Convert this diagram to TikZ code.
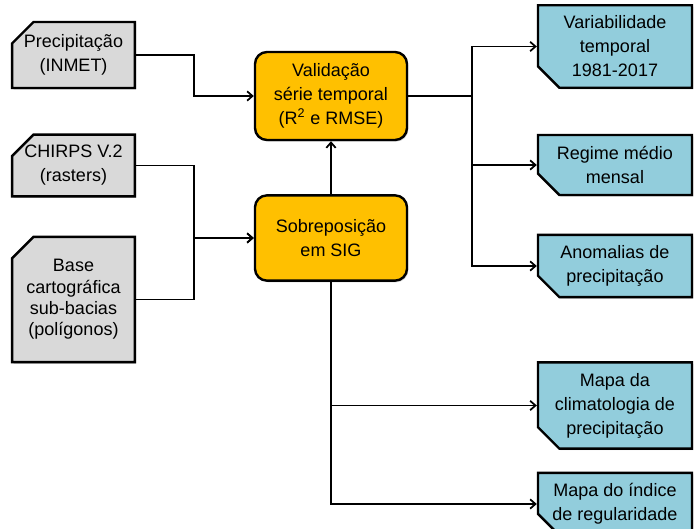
\documentclass[tikz,border=0pt]{standalone}
\usepackage{fontspec}
\setmainfont{Liberation Sans}
\usetikzlibrary{shapes.misc, arrows.meta, shadows}
\definecolor{inputcolor}{RGB}{217, 217, 217}
\definecolor{stepcolor}{RGB}{255, 192, 0}
\definecolor{outputcolor}{RGB}{146, 205, 220}

\tikzset{
  box/.style={draw=black, line width=1.8pt, align=center, inner sep=0pt,
    font=\fontsize{13.5}{18}\selectfont,
    drop shadow={shadow xshift=1pt, shadow yshift=-1.2pt, opacity=0.35}},
  inbox/.style={box, fill=inputcolor, chamfered rectangle,
    chamfered rectangle corners=north west,
    chamfered rectangle xsep=8pt, chamfered rectangle ysep=8pt},
  procbox/.style={box, fill=stepcolor, rounded corners=9pt,
    minimum width=114pt},
  outbox/.style={box, fill=outputcolor, chamfered rectangle,
    chamfered rectangle corners=south west,
    chamfered rectangle xsep=8pt, chamfered rectangle ysep=8pt,
    minimum width=115.5pt},
  flow/.style={line width=1.3pt, -{Straight Barb[length=4pt, width=7pt]}},
  link/.style={line width=1.3pt}
}

\begin{document}
\begin{tikzpicture}[x=0.75pt, y=-0.75pt]
        \useasboundingbox (0, 0) rectangle (694, 529);
        % Inputs {{{
        \node[inbox, minimum width=92pt, minimum height=49.5pt] (prec) at (73.5, 55) {Precipitação\\(INMET)};
        \node[inbox, minimum width=92pt, minimum height=44pt] (chirps) at (73.5, 165.5) {CHIRPS V.2\\(rasters)};
        \node[inbox, minimum width=92pt, minimum height=94pt,
          font=\fontsize{13.5}{16}\selectfont] (base) at (73.5, 299.5) {Base\\cartográfica\\sub-bacias\\(polígonos)};
        % }}}
        % Processing {{{
        \node[procbox, minimum height=66pt] (valid) at (331, 96) {Validação\\série temporal\\(R\textsuperscript{2} e RMSE)};
        \node[procbox, minimum height=64pt] (sobre) at (331, 238) {Sobreposição\\em SIG};
        % }}}
        % Outputs {{{
        \node[outbox, minimum height=55pt] (var) at (615, 46.5) {Variabilidade\\temporal\\1981-2017};
        \node[outbox, minimum height=45pt] (regime) at (615, 165) {Regime médio\\mensal};
        \node[outbox, minimum height=46.5pt] (anom) at (615, 266) {Anomalias de\\precipitação};
        \node[outbox, minimum height=56pt] (clim) at (615, 405.5) {Mapa da\\climatologia de\\precipitação};
        \node[outbox, minimum height=40pt] (indice) at (615, 504) {Mapa do índice\\de regularidade};
        % }}}
        % Connectors {{{
        \coordinate (jr) at (472, 96);
        \draw[flow] (prec.east) -- ++(58, 0) |- (valid.west);
        \draw[flow] (chirps.east) -- ++(58, 0) |- (sobre.west);
        \draw[flow] (base.east) -- ++(58, 0) |- (sobre.west);
        \draw[flow] (sobre.north) -- (valid.south);
        \draw[link] (valid.east) -- (jr);
        \foreach \n in {var, regime, anom} \draw[flow] (jr) |- (\n.west);
        \foreach \n in {clim, indice} \draw[flow] (sobre.south) |- (\n.west);
        % }}}
\end{tikzpicture}
\end{document}
